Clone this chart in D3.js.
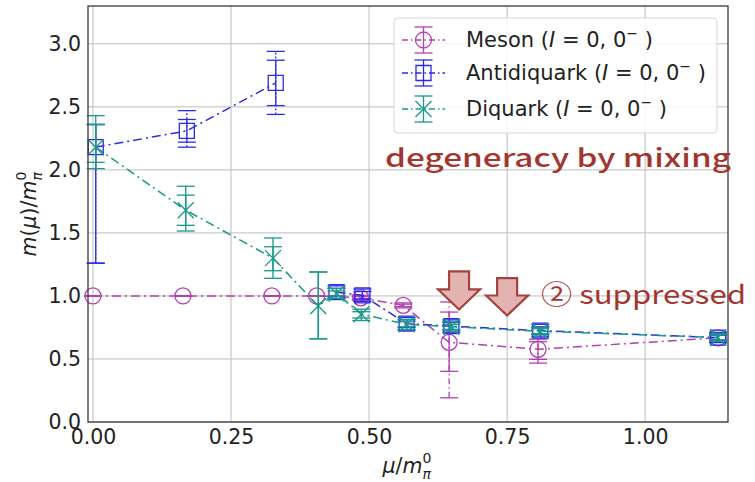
<!DOCTYPE html>
<html>
<head>
<meta charset="utf-8">
<script src="https://cdn.jsdelivr.net/npm/d3@7/dist/d3.min.js"></script>
<style>
  html, body { margin: 0; padding: 0; background: #fff; }
  svg { display: block; }
</style>
</head>
<body>
<svg id="chart" width="755" height="482"></svg>
<script>
// ---- data: mass ratio m(mu)/m_pi^0 against mu/m_pi^0 ----
const mesonMu      = [0.000, 0.163, 0.324, 0.405, 0.485, 0.562, 0.645, 0.806, 1.132];
const mesonMass    = [1.000, 1.000, 1.000, 1.000, 0.985, 0.925, 0.632, 0.577, 0.668];
const mesonErrLo   = [0.00, 0.00, 0.00, 0.00, 0.02, 0.02, 0.44, 0.110, 0.03];
const mesonErrHi   = [0.00, 0.00, 0.00, 0.00, 0.02, 0.02, 0.32, 0.080, 0.03];
const mesonErrLo2  = [0.00, 0.00, 0.00, 0.00, 0.01, 0.01, 0.23, 0.080, 0.02];
const mesonErrHi2  = [0.00, 0.00, 0.00, 0.00, 0.01, 0.01, 0.24, 0.060, 0.02];
const mesonBranch  = [1, 1, 1, 1, 1, 1, 1, 1, 1];

const antiMu       = [0.005, 0.170, 0.331, 0.441, 0.488, 0.568, 0.649, 0.810, 1.132];
const antiMass     = [2.180, 2.310, 2.690, 1.030, 1.005, 0.780, 0.760, 0.725, 0.670];
const antiErrLo    = [0.92, 0.13, 0.25, 0.05, 0.05, 0.05, 0.05, 0.05, 0.04];
const antiErrHi    = [0.18, 0.16, 0.25, 0.05, 0.05, 0.05, 0.05, 0.05, 0.04];
const antiErrLo2   = [0.92, 0.09, 0.18, 0.03, 0.03, 0.03, 0.03, 0.03, 0.02];
const antiErrHi2   = [0.18, 0.09, 0.18, 0.03, 0.03, 0.03, 0.03, 0.03, 0.02];
const antiBranch   = [1, 1, 1, 2, 2, 2, 2, 2, 2];

const diqMu        = [0.005, 0.168, 0.326, 0.408, 0.441, 0.486, 0.568, 0.649, 0.810, 1.132];
const diqMass      = [2.180, 1.680, 1.300, 0.920, 1.020, 0.855, 0.775, 0.755, 0.720, 0.670];
const diqErrLo     = [0.17, 0.165, 0.16, 0.26, 0.04, 0.05, 0.04, 0.04, 0.03, 0.03];
const diqErrHi     = [0.25, 0.190, 0.16, 0.27, 0.04, 0.04, 0.04, 0.04, 0.03, 0.03];
const diqErrLo2    = [0.12, 0.120, 0.10, 0.26, 0.02, 0.03, 0.02, 0.02, 0.02, 0.02];
const diqErrHi2    = [0.18, 0.120, 0.09, 0.27, 0.02, 0.02, 0.02, 0.02, 0.02, 0.02];
const diqBranch    = [1, 1, 1, 1, 1, 1, 1, 1, 1, 1];

const seriesNames  = ["Meson", "Antidiquark", "Diquark"];
const xTicks       = [0.00, 0.25, 0.50, 0.75, 1.00];
const yTicks       = [0.0, 0.5, 1.0, 1.5, 2.0, 2.5, 3.0];

// ---- layout ----
const svg = d3.select("#chart");
const plot = { left: 88, right: 728, top: 6, bottom: 422 };
const x = d3.scaleLinear().domain([-0.009, 1.15]).range([plot.left, plot.right]);
const y = d3.scaleLinear().domain([0, 3.3]).range([plot.bottom, plot.top]);

const AXIS_FONT = "DejaVu Sans, sans-serif";
const NOTE_FONT = "'Noto Sans CJK JP', 'Noto Sans', sans-serif";
const NOTE_COLOR = "#a3352f";

const series = [
  { name: seriesNames[0], mu: mesonMu, m: mesonMass, lo: mesonErrLo, hi: mesonErrHi, lo2: mesonErrLo2, hi2: mesonErrHi2,
    branch: mesonBranch, color: "#b440b4", marker: "circle", errDash: "6,3,1.5,3" },
  { name: seriesNames[1], mu: antiMu, m: antiMass, lo: antiErrLo, hi: antiErrHi, lo2: antiErrLo2, hi2: antiErrHi2,
    branch: antiBranch, color: "#2b2be6", marker: "square", errDash: "2,2" },
  { name: seriesNames[2], mu: diqMu, m: diqMass, lo: diqErrLo, hi: diqErrHi, lo2: diqErrLo2, hi2: diqErrHi2,
    branch: diqBranch, color: "#18998a", marker: "x", errDash: null }
];

// ---- grid ----
const grid = svg.append("g").attr("stroke", "#bdbdbd").attr("stroke-width", 1);
grid.selectAll("line.gx").data(xTicks).join("line")
  .attr("x1", d => x(d)).attr("x2", d => x(d))
  .attr("y1", plot.top).attr("y2", plot.bottom);
grid.selectAll("line.gy").data(yTicks).join("line")
  .attr("x1", plot.left).attr("x2", plot.right)
  .attr("y1", d => y(d)).attr("y2", d => y(d));

// ---- axes (tick labels only, matplotlib style) ----
const xAxis = d3.axisBottom(x).tickValues(xTicks).tickFormat(d3.format(".2f")).tickSize(0).tickPadding(7);
const yAxis = d3.axisLeft(y).tickValues(yTicks).tickFormat(d3.format(".1f")).tickSize(0).tickPadding(7);
const gx = svg.append("g").attr("transform", `translate(0,${plot.bottom})`).call(xAxis);
const gy = svg.append("g").attr("transform", `translate(${plot.left},0)`).call(yAxis);
[gx, gy].forEach(g => {
  g.select(".domain").remove();
  g.selectAll("text").attr("font-family", AXIS_FONT).attr("font-size", 20.5).attr("fill", "#222");
});

// ---- marker shapes ----
function markerPath(kind, cx, cy) {
  if (kind === "circle") {
    const r = 8;
    return `M${cx - r},${cy}a${r},${r} 0 1,0 ${2 * r},0a${r},${r} 0 1,0 ${-2 * r},0Z`;
  }
  if (kind === "square") {
    const h = 7.5;
    return `M${cx - h},${cy - h}H${cx + h}V${cy + h}H${cx - h}Z`;
  }
  const h = 8;
  return `M${cx - h},${cy - h}L${cx + h},${cy + h}M${cx - h},${cy + h}L${cx + h},${cy - h}`;
}

function drawErrorBar(g, s, cx, yLo, yHi, dashed) {
  const cap = 9;
  g.append("line").attr("x1", cx).attr("x2", cx).attr("y1", yLo).attr("y2", yHi)
    .attr("stroke", s.color).attr("stroke-width", 1.3)
    .attr("stroke-dasharray", dashed ? s.errDash : null);
  [yLo, yHi].forEach(yy => g.append("line")
    .attr("x1", cx - cap).attr("x2", cx + cap).attr("y1", yy).attr("y2", yy)
    .attr("stroke", s.color).attr("stroke-width", 1.3));
}

const LINE_DASH = "9,4,2,4";

series.forEach(s => {
  const g = svg.append("g");
  const pts = s.mu.map((mu, i) => ({ mu, m: s.m[i], lo: s.lo[i], hi: s.hi[i], lo2: s.lo2[i], hi2: s.hi2[i], branch: s.branch[i] }));

  // error bars: outer and inner ranges
  pts.forEach(p => {
    const cx = x(p.mu);
    drawErrorBar(g, s, cx, y(p.m - p.lo), y(p.m + p.hi), true);
    drawErrorBar(g, s, cx, y(p.m - p.lo2), y(p.m + p.hi2), false);
  });

  // connecting line, one path per branch
  const line = d3.line().x(d => x(d.mu)).y(d => y(d.m));
  d3.groups(pts, d => d.branch).forEach(([, branchPts]) => {
    g.append("path")
      .attr("d", line(branchPts))
      .attr("fill", "none").attr("stroke", s.color).attr("stroke-width", 1.5)
      .attr("stroke-dasharray", LINE_DASH);
  });

  // hollow markers
  g.selectAll("path.mk").data(pts).join("path")
    .attr("class", "mk")
    .attr("d", d => markerPath(s.marker, x(d.mu), y(d.m)))
    .attr("fill", "none").attr("stroke", s.color).attr("stroke-width", 1.3);
});

// ---- spines ----
svg.append("rect")
  .attr("x", plot.left).attr("y", plot.top)
  .attr("width", plot.right - plot.left).attr("height", plot.bottom - plot.top)
  .attr("fill", "none").attr("stroke", "#3a3a3a").attr("stroke-width", 1.3);

// ---- axis titles ----
function mathTitle(sel, parts) {
  parts.forEach(p => {
    const t = sel.append("tspan").text(p.text);
    if (p.italic) t.attr("font-style", "italic");
    if (p.size) t.attr("font-size", p.size);
    if (p.dx) t.attr("dx", p.dx);
    if (p.dy) t.attr("dy", p.dy);
  });
}
const subSup = [
  { text: "0", size: 14, dy: -10 },
  { text: "π", size: 14, italic: true, dx: -8.9, dy: 16 }
];

const yTitle = svg.append("text")
  .attr("transform", `translate(36,214) rotate(-90)`)
  .attr("text-anchor", "middle")
  .attr("font-family", AXIS_FONT).attr("font-size", 20.5).attr("fill", "#222");
mathTitle(yTitle, [
  { text: "m", italic: true }, { text: "(" }, { text: "μ", italic: true }, { text: ")/" }, { text: "m", italic: true },
  ...subSup
]);

const xTitle = svg.append("text")
  .attr("x", 407).attr("y", 473)
  .attr("text-anchor", "middle")
  .attr("font-family", AXIS_FONT).attr("font-size", 20.5).attr("fill", "#222");
mathTitle(xTitle, [
  { text: "μ", italic: true }, { text: "/" }, { text: "m", italic: true },
  ...subSup
]);

// ---- legend ----
const legend = svg.append("g");
legend.append("rect")
  .attr("x", 394).attr("y", 18).attr("width", 323).attr("height", 115).attr("rx", 4)
  .attr("fill", "#fff").attr("fill-opacity", 0.85)
  .attr("stroke", "#d6d6d6").attr("stroke-width", 1);

const legendRows = [40, 73, 109];
series.forEach((s, i) => {
  const cy = legendRows[i], cx = 423.5;
  legend.append("line").attr("x1", 402).attr("x2", 445).attr("y1", cy).attr("y2", cy)
    .attr("stroke", s.color).attr("stroke-width", 1.5).attr("stroke-dasharray", "6,3,1.5,3");
  drawErrorBar(legend, s, cx, cy + 13, cy - 13, false);
  legend.append("path").attr("d", markerPath(s.marker, cx, cy))
    .attr("fill", "none").attr("stroke", s.color).attr("stroke-width", 1.3);

  const t = legend.append("text").attr("x", 466).attr("y", cy + 7)
    .attr("font-family", AXIS_FONT).attr("font-size", 21).attr("fill", "#222");
  t.append("tspan").text(s.name + " (");
  t.append("tspan").attr("font-style", "italic").text("I");
  t.append("tspan").text(" = 0, 0");
  t.append("tspan").attr("dy", -9).attr("font-size", 14).text("−");
  t.append("tspan").attr("dy", 9).text(" )");
});

// ---- annotations ----
svg.append("text")
  .attr("x", 385).attr("y", 167)
  .attr("font-family", NOTE_FONT).attr("font-weight", 500).attr("font-size", 25)
  .attr("fill", NOTE_COLOR)
  .attr("textLength", 346).attr("lengthAdjust", "spacingAndGlyphs")
  .text("degeneracy by mixing");

svg.append("text")
  .attr("x", 541).attr("y", 304)
  .attr("font-family", NOTE_FONT).attr("font-size", 26)
  .attr("fill", NOTE_COLOR)
  .attr("textLength", 205).attr("lengthAdjust", "spacingAndGlyphs")
  .text("② suppressed");

// down arrows marking the suppressed region (anchored in data space)
function downArrow(mu, top, tip) {
  const cx = x(mu), y0 = y(top), y2 = y(tip);
  const headH = 20, shaft = 10, head = 21;
  const y1 = y2 - headH;
  return `M${cx - shaft},${y0}H${cx + shaft}V${y1}H${cx + head}L${cx},${y2}L${cx - head},${y1}H${cx - shaft}Z`;
}
[[0.663, 1.195, 0.893], [0.750, 1.142, 0.845]].forEach(([mu, top, tip]) => {
  svg.append("path").attr("d", downArrow(mu, top, tip))
    .attr("fill", "#e3b3b1").attr("stroke", "#a4433d").attr("stroke-width", 2.2)
    .attr("stroke-linejoin", "miter");
});
</script>
</body>
</html>
